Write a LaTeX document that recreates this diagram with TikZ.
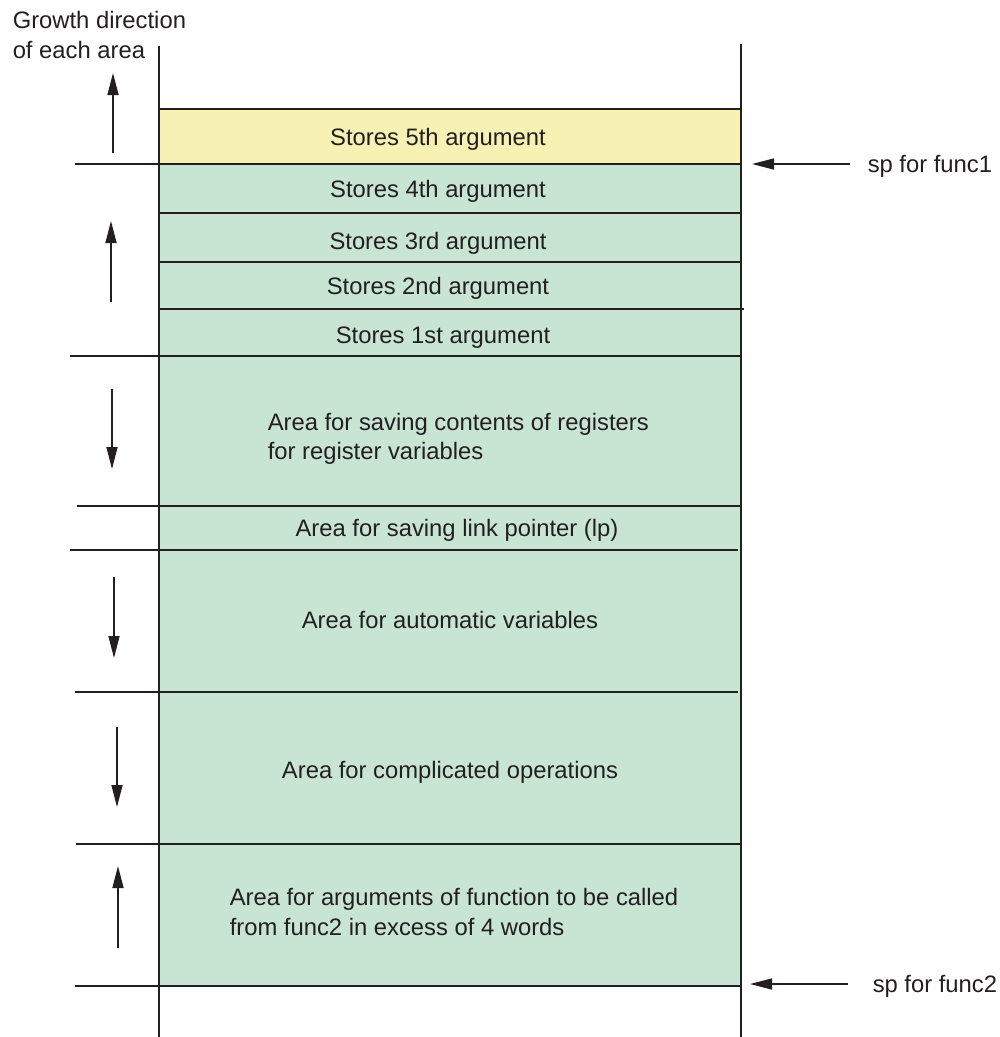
\documentclass[tikz,border=0pt]{standalone}
\usepackage{fontspec}
\setmainfont{Liberation Sans}
\usetikzlibrary{arrows.meta}
\definecolor{ink}{HTML}{231F20}
\definecolor{argyellow}{HTML}{F8F1B4}
\definecolor{areagreen}{HTML}{C8E4D3}
\begin{document}
\begin{tikzpicture}[x=1pt,y=-1pt,
  line width=1.5pt, draw=ink,
  area/.style={fill=areagreen, draw=none, inner sep=0, minimum width=582pt, anchor=north west},
  rule/.style={draw=ink, line width=1.5pt},
  growth/.style={draw=ink, line width=1.5pt, -{Triangle[length=22pt,width=11pt]}},
  txt/.style={inner sep=0, text=ink, font=\fontsize{23.8}{29}\selectfont}
]
\useasboundingbox (0,0) rectangle (1000,1037);

% stack areas (fills)
\node[area, fill=argyellow, minimum height=55pt] (s5) at (159,109) {};
\node[area, minimum height=49pt] (s4) at (159,164) {};
\node[area, minimum height=49pt] (s3) at (159,213) {};
\node[area, minimum height=47pt] (s2) at (159,262) {};
\node[area, minimum height=47pt] (s1) at (159,309) {};
\node[area, minimum height=150pt] (reg) at (159,356) {};
\node[area, minimum height=44pt] (lp) at (159,506) {};
\node[area, minimum height=142pt] (auto) at (159,550) {};
\node[area, minimum height=152pt] (ops) at (159,692) {};
\node[area, minimum height=142pt] (args) at (159,844) {};

% boundaries between areas
\draw[rule] (159,109) -- (741,109);
\draw[rule] (75,164) -- (741,164);
\draw[rule] (159,213) -- (741,213);
\draw[rule] (159,262) -- (741,262);
\draw[rule] (159,309) -- (744,309);
\draw[rule] (70,356) -- (741,356);
\draw[rule] (77,506) -- (741,506);
\draw[rule] (70,550) -- (738,550);
\draw[rule] (75,692) -- (738,692);
\draw[rule] (76,844) -- (741,844);
\draw[rule] (75,986) -- (741,986);

% stack walls
\draw[rule] (159,46) -- (159,1037);
\draw[rule] (741,44) -- (741,1037);

% growth directions
\coordinate (g5a) at (113,153); \coordinate (g5b) at (113,73);
\coordinate (g14a) at (111,302); \coordinate (g14b) at (111,221);
\coordinate (gra) at (112,389); \coordinate (grb) at (112,469);
\coordinate (gaa) at (114,577); \coordinate (gab) at (114,658);
\coordinate (goa) at (117,727); \coordinate (gob) at (117,807);
\coordinate (gca) at (118,948); \coordinate (gcb) at (118,866);
\draw[growth] (g5a) -- (g5b);
\draw[growth] (g14a) -- (g14b);
\draw[growth] (gra) -- (grb);
\draw[growth] (gaa) -- (gab);
\draw[growth] (goa) -- (gob);
\draw[growth] (gca) -- (gcb);

% labels
\node[txt, anchor=base west] (title1) at (12,28) {Growth direction};
\node[txt, anchor=base west] (title2) at (12,58) {of each area};

\node[txt, anchor=base] (t5) at (438,145) {Stores 5th argument};
\node[txt, anchor=base] (t4) at (438,197) {Stores 4th argument};
\node[txt, anchor=base] (t3) at (438,249) {Stores 3rd argument};
\node[txt, anchor=base] (t2) at (438,294) {Stores 2nd argument};
\node[txt, anchor=base] (t1) at (443,343) {Stores 1st argument};
\node[txt, anchor=base west] (treg1) at (267,430) {Area for saving contents of registers};
\node[txt, anchor=base west] (treg2) at (267,459) {for register variables};
\node[txt, anchor=base] (tlp) at (457,536) {Area for saving link pointer (lp)};
\node[txt, anchor=base] (tauto) at (450,628) {Area for automatic variables};
\node[txt, anchor=base] (tops) at (450,778) {Area for complicated operations};
\node[txt, anchor=base west] (targs1) at (229,905) {Area for arguments of function to be called};
\node[txt, anchor=base west] (targs2) at (229,935) {from func2 in excess of 4 words};

% stack pointers
\node[txt, anchor=base west] (sp1) at (867,172) {sp for func1};
\node[txt, anchor=base west] (sp2) at (872,992) {sp for func2};
\coordinate (sp1end) at (752,164);
\coordinate (sp2end) at (750,984);
\draw[growth] (sp1.west |- sp1end) ++(-17,0) -- (sp1end);
\draw[growth] (sp2.west |- sp2end) ++(-24,0) -- (sp2end);
\end{tikzpicture}
\end{document}
